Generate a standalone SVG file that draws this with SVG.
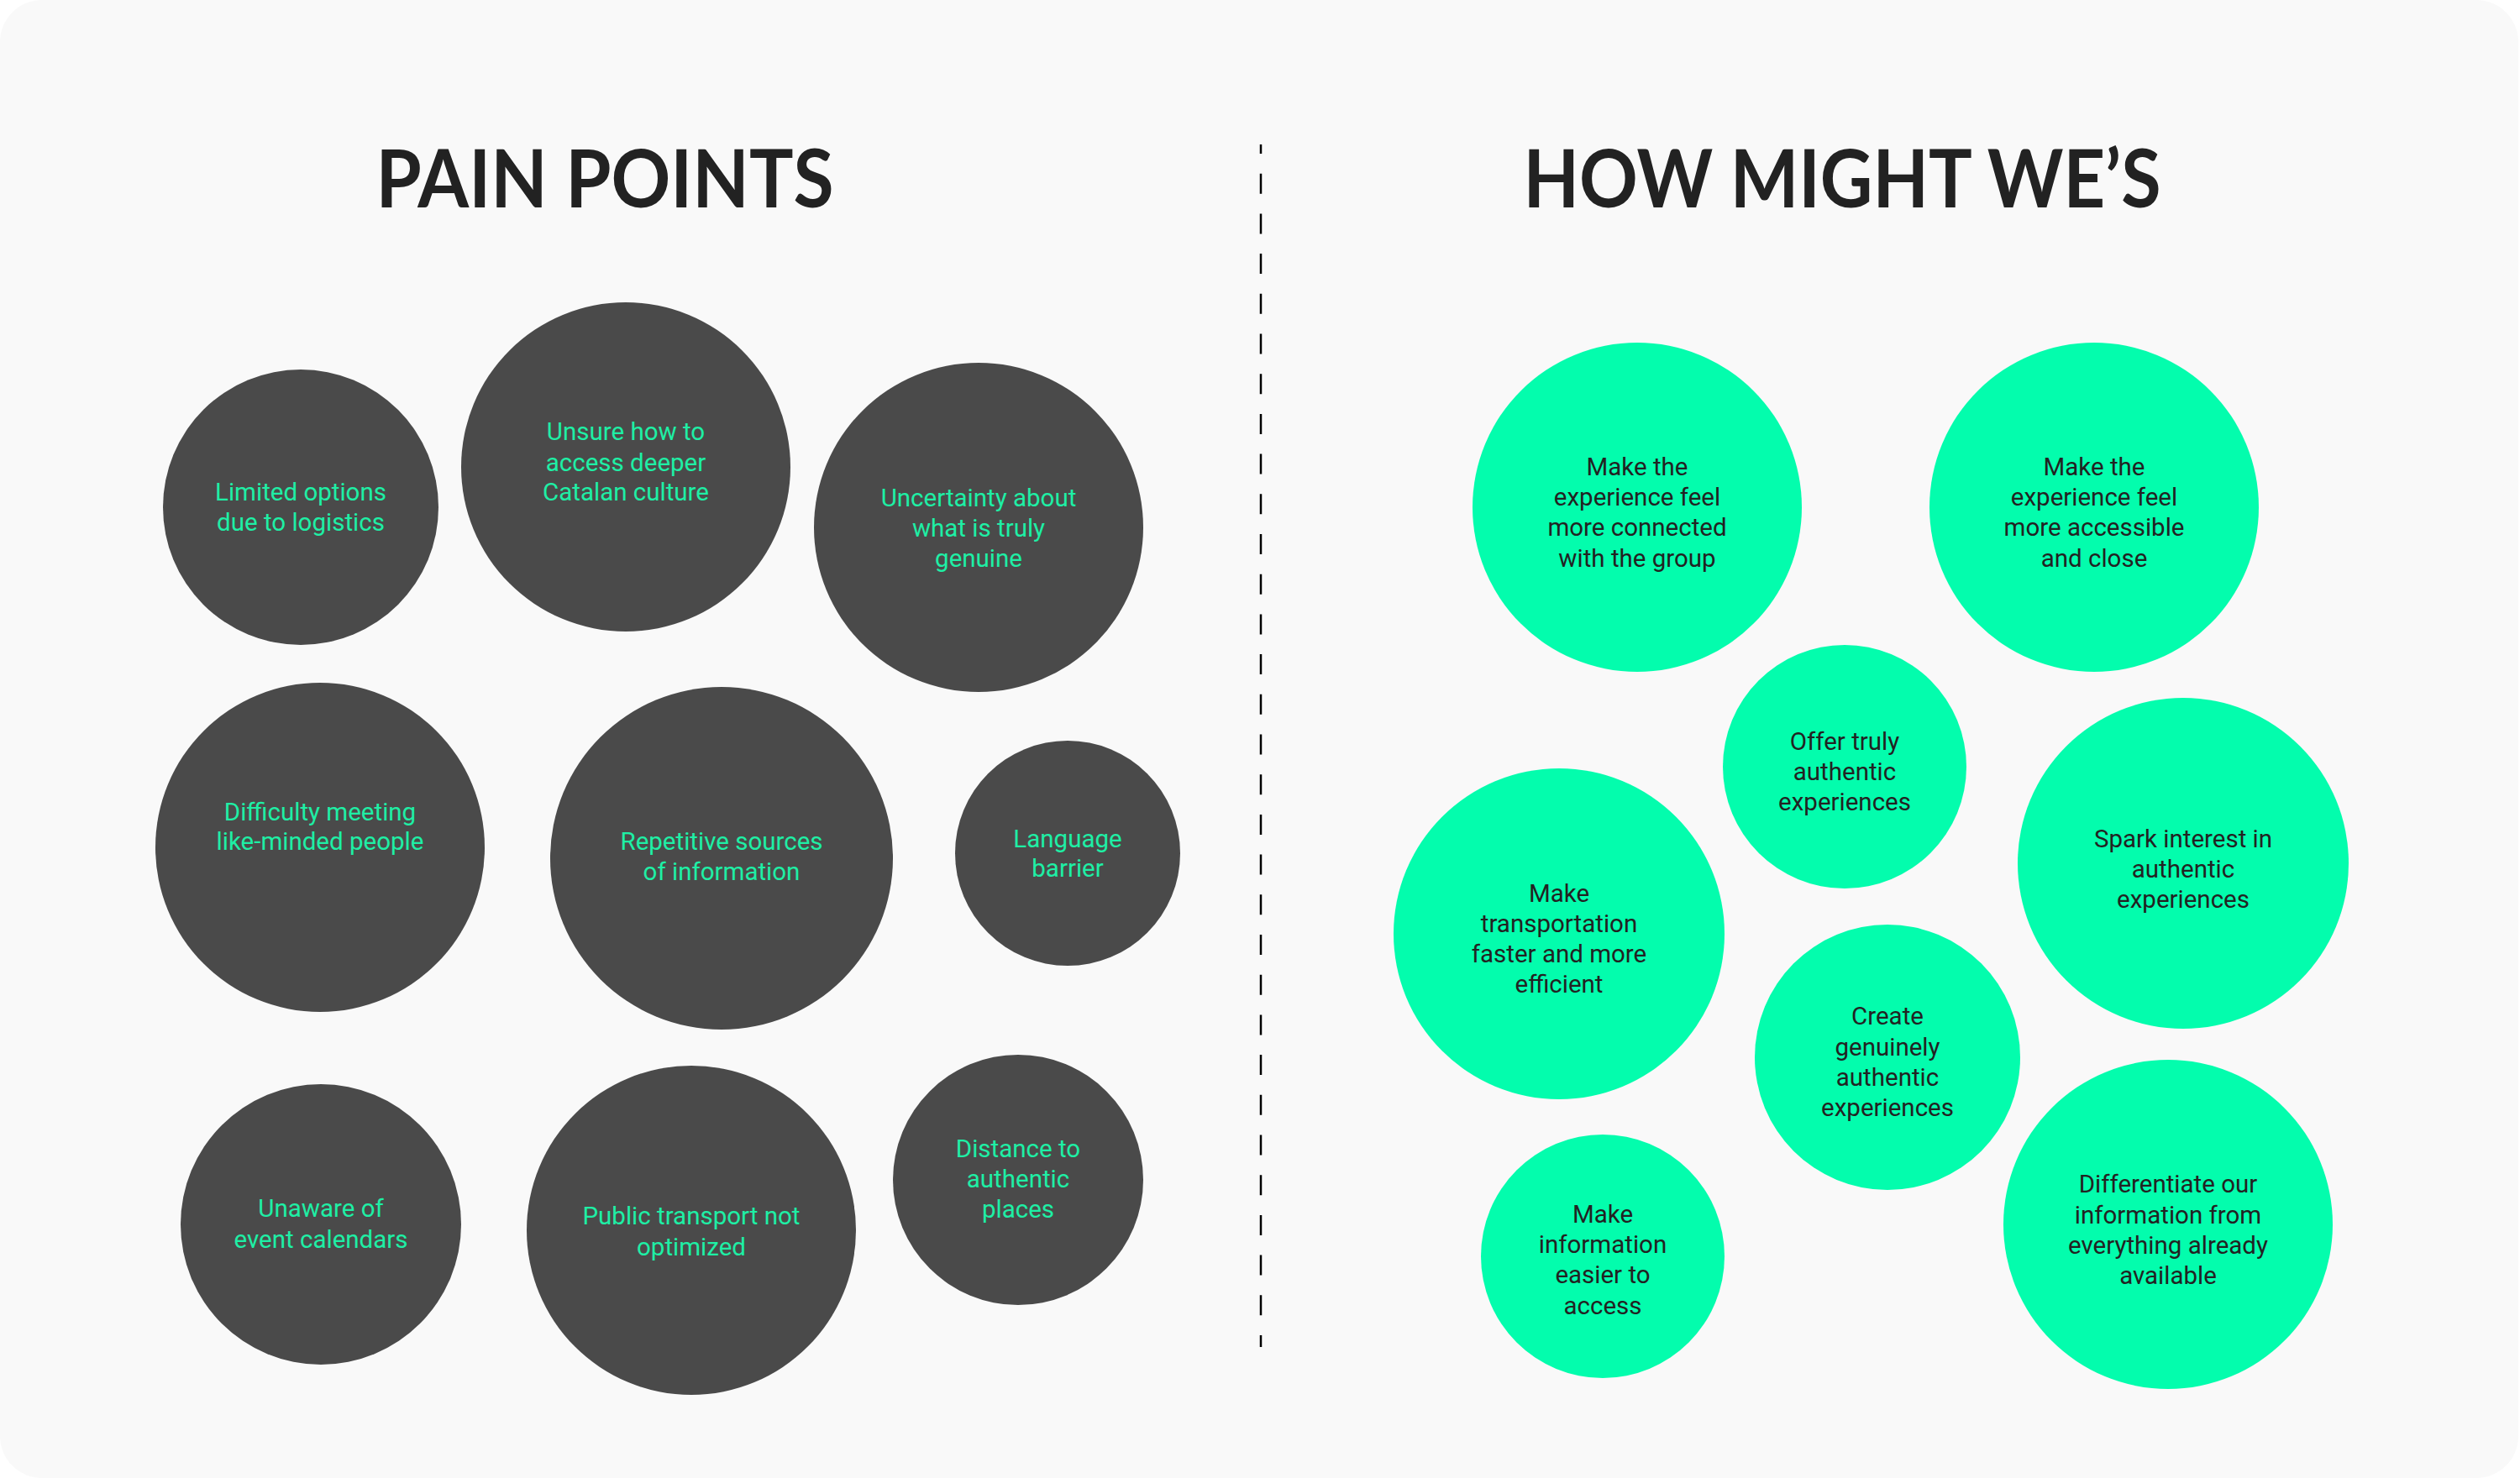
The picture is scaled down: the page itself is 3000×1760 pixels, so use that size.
<svg xmlns="http://www.w3.org/2000/svg" width="3000" height="1760" viewBox="0 0 3000 1760">
<style>
.title{font-family:Lato,"Liberation Sans",sans-serif;font-weight:700;font-size:95px;fill:#222222;text-anchor:middle}
.pain{fill:#4a4a4a}
.hmw{fill:#03FDAD}
.pt{font-family:Roboto,"Liberation Sans",sans-serif;font-size:29.5px;fill:#1EEFA5;text-anchor:middle}
.ht{font-family:Roboto,"Liberation Sans",sans-serif;font-size:29.5px;fill:#222222;text-anchor:middle}
</style>
<rect x="0" y="0" width="3000" height="1760" fill="#ffffff"/>
<rect x="0" y="0" width="2998" height="1760" rx="50" ry="50" fill="#f9f9f9"/>
<text class="title" x="720" y="247" textLength="545" lengthAdjust="spacingAndGlyphs">PAIN POINTS</text>
<text class="title" x="2193" y="247" textLength="759" lengthAdjust="spacingAndGlyphs">HOW MIGHT WE’S</text>
<g id="connectors">
<line x1="1501" y1="172" x2="1501" y2="1604" stroke="#000000" stroke-width="2.5" stroke-dasharray="24 23.7" stroke-dashoffset="13"/>
</g>
<g id="p1"><circle class="pain" cx="358" cy="604" r="164"/><text class="pt" x="358"><tspan x="358" y="596">Limited options</tspan><tspan x="358" y="632">due to logistics</tspan></text></g>
<g id="p2"><circle class="pain" cx="745" cy="556" r="196"/><text class="pt"><tspan x="745" y="524">Unsure how to</tspan><tspan x="745" y="560.5">access deeper</tspan><tspan x="745" y="596">Catalan culture</tspan></text></g>
<g id="p3"><circle class="pain" cx="1165" cy="628" r="196"/><text class="pt"><tspan x="1165" y="602.5">Uncertainty about</tspan><tspan x="1165" y="638.5">what is truly</tspan><tspan x="1165" y="674.5">genuine</tspan></text></g>
<g id="p4"><circle class="pain" cx="381" cy="1009" r="196"/><text class="pt"><tspan x="381" y="976.5">Difficulty meeting</tspan><tspan x="381" y="1012">like-minded people</tspan></text></g>
<g id="p5"><circle class="pain" cx="859" cy="1022" r="204"/><text class="pt"><tspan x="859" y="1011.5">Repetitive sources</tspan><tspan x="859" y="1047.5">of information</tspan></text></g>
<g id="p6"><circle class="pain" cx="1271" cy="1016" r="134"/><text class="pt"><tspan x="1271" y="1008.5">Language</tspan><tspan x="1271" y="1044">barrier</tspan></text></g>
<g id="p7"><circle class="pain" cx="382" cy="1458" r="167"/><text class="pt"><tspan x="382" y="1449">Unaware of</tspan><tspan x="382" y="1485.5">event calendars</tspan></text></g>
<g id="p8"><circle class="pain" cx="823" cy="1465" r="196"/><text class="pt"><tspan x="823" y="1458">Public transport not</tspan><tspan x="823" y="1494.5">optimized</tspan></text></g>
<g id="p9"><circle class="pain" cx="1212" cy="1405" r="149"/><text class="pt"><tspan x="1212" y="1378">Distance to</tspan><tspan x="1212" y="1414">authentic</tspan><tspan x="1212" y="1450">places</tspan></text></g>
<g id="h1"><circle class="hmw" cx="1949" cy="604" r="196"/><text class="ht"><tspan x="1949" y="566">Make the</tspan><tspan x="1949" y="602">experience feel</tspan><tspan x="1949" y="638">more connected</tspan><tspan x="1949" y="674.5">with the group</tspan></text></g>
<g id="h2"><circle class="hmw" cx="2493" cy="604" r="196"/><text class="ht"><tspan x="2493" y="566">Make the</tspan><tspan x="2493" y="602">experience feel</tspan><tspan x="2493" y="638">more accessible</tspan><tspan x="2493" y="674.5">and close</tspan></text></g>
<g id="h3"><circle class="hmw" cx="2196" cy="913" r="145"/><text class="ht"><tspan x="2196" y="892.5">Offer truly</tspan><tspan x="2196" y="928.5">authentic</tspan><tspan x="2196" y="964.5">experiences</tspan></text></g>
<g id="h4"><circle class="hmw" cx="2599" cy="1028" r="197"/><text class="ht"><tspan x="2599" y="1008.5">Spark interest in</tspan><tspan x="2599" y="1044.5">authentic</tspan><tspan x="2599" y="1080.5">experiences</tspan></text></g>
<g id="h5"><circle class="hmw" cx="1856" cy="1112" r="197"/><text class="ht"><tspan x="1856" y="1074">Make</tspan><tspan x="1856" y="1110">transportation</tspan><tspan x="1856" y="1146">faster and more</tspan><tspan x="1856" y="1182">efficient</tspan></text></g>
<g id="h6"><circle class="hmw" cx="2247" cy="1259" r="158"/><text class="ht"><tspan x="2247" y="1220">Create</tspan><tspan x="2247" y="1257">genuinely</tspan><tspan x="2247" y="1293">authentic</tspan><tspan x="2247" y="1329">experiences</tspan></text></g>
<g id="h7"><circle class="hmw" cx="1908" cy="1496" r="145"/><text class="ht"><tspan x="1908" y="1455.5">Make</tspan><tspan x="1908" y="1491.5">information</tspan><tspan x="1908" y="1528">easier to</tspan><tspan x="1908" y="1564.5">access</tspan></text></g>
<g id="h8"><circle class="hmw" cx="2581" cy="1458" r="196"/><text class="ht"><tspan x="2581" y="1419.5">Differentiate our</tspan><tspan x="2581" y="1456.5">information from</tspan><tspan x="2581" y="1492.5">everything already</tspan><tspan x="2581" y="1528.5">available</tspan></text></g>
</svg>
